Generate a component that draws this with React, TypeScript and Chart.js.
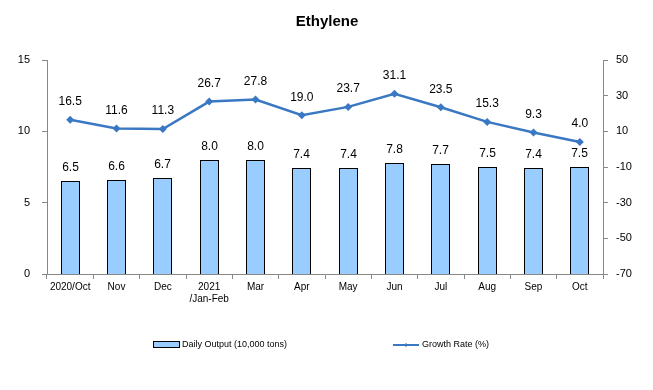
import React, { useEffect, useRef } from "react";
import { Chart, registerables } from "chart.js";

Chart.register(...registerables);

const categories: (string | string[])[] = [
  "2020/Oct", "Nov", "Dec", ["2021", "/Jan-Feb"], "Mar", "Apr", "May", "Jun", "Jul", "Aug", "Sep", "Oct",
];
const dailyOutput = [6.5, 6.6, 6.7, 8.0, 8.0, 7.4, 7.4, 7.8, 7.7, 7.5, 7.4, 7.5];
const growthRate = [16.5, 11.6, 11.3, 26.7, 27.8, 19.0, 23.7, 31.1, 23.5, 15.3, 9.3, 4.0];
const leftTicks = [0, 5, 10, 15];
const rightTicks = [-70, -50, -30, -10, 10, 30, 50];
const titleText = "Ethylene";
const barLabel = "Daily Output (10,000 tons)";
const lineLabel = "Growth Rate (%)";

const FONT = "'Liberation Sans', Arial, sans-serif";
const BAR_COLOR = "#99ccff";
const LINE_COLOR = "#3a78c3";

const snapPlugin = {
  id: "snap",
  beforeDatasetsDraw(chart: any) {
    const meta = chart.getDatasetMeta(0);
    meta.data.forEach((el: any) => {
      el.x = Math.round(el.x - 0.5) + 0.5;
      el.width = 19;
      el.y = Math.round(el.y);
      el.base = Math.round(el.base);
    });
  },
};

const decorPlugin = {
  id: "decor",
  afterDatasetsDraw(chart: any) {
    const ctx = chart.ctx;
    ctx.save();
    ctx.fillStyle = "#000";
    ctx.font = `12px ${FONT}`;
    ctx.textAlign = "center";
    ctx.textBaseline = "middle";
    const barMeta = chart.getDatasetMeta(0);
    barMeta.data.forEach((el: any, i: number) => {
      ctx.fillText(dailyOutput[i].toFixed(1), el.x, el.y - 13);
    });
    const lineMeta = chart.getDatasetMeta(1);
    lineMeta.data.forEach((el: any, i: number) => {
      ctx.fillText(growthRate[i].toFixed(1), el.x, el.y - 18);
    });
    ctx.font = `bold 15px ${FONT}`;
    ctx.fillText(titleText, 327, 22);
    ctx.textAlign = "left";
    ctx.font = `9px ${FONT}`;
    ctx.fillStyle = BAR_COLOR;
    ctx.fillRect(153.5, 341.5, 26, 6);
    ctx.strokeStyle = "#000";
    ctx.lineWidth = 1;
    ctx.strokeRect(153.5, 341.5, 26, 6);
    ctx.fillStyle = "#000";
    ctx.fillText(barLabel, 182, 345);
    ctx.strokeStyle = LINE_COLOR;
    ctx.lineWidth = 2;
    ctx.beginPath();
    ctx.moveTo(393, 345);
    ctx.lineTo(419, 345);
    ctx.stroke();
    ctx.fillStyle = LINE_COLOR;
    ctx.beginPath();
    ctx.moveTo(406, 343);
    ctx.lineTo(408, 345);
    ctx.lineTo(406, 347);
    ctx.lineTo(404, 345);
    ctx.closePath();
    ctx.fill();
    ctx.fillStyle = "#000";
    ctx.fillText(lineLabel, 422, 345);
    ctx.restore();
  },
};

export default function App() {
  const ref = useRef<HTMLCanvasElement>(null);
  useEffect(() => {
    const chart = new Chart(ref.current as HTMLCanvasElement, {
      type: "bar",
      data: {
        labels: categories as any,
        datasets: [
          {
            type: "bar",
            label: barLabel,
            data: dailyOutput,
            backgroundColor: BAR_COLOR,
            borderColor: "#000",
            borderWidth: 1,
            inflateAmount: 0,
            barPercentage: 0.82,
            categoryPercentage: 0.5,
            yAxisID: "y",
            order: 2,
          },
          {
            type: "line",
            label: lineLabel,
            data: growthRate,
            borderColor: LINE_COLOR,
            backgroundColor: LINE_COLOR,
            borderWidth: 2.5,
            pointStyle: "rectRot",
            pointRadius: 4,
            pointBorderWidth: 0,
            yAxisID: "y1",
            order: 1,
          } as any,
        ],
      },
      options: {
        animation: false,
        responsive: false,
        layout: { padding: { top: 60, left: 0, right: 0, bottom: 0 } },
        plugins: {
          legend: { display: false },
          title: { display: false },
          tooltip: { enabled: false },
        },
        scales: {
          x: {
            offset: true,
            grid: {
              display: true,
              offset: true,
              drawOnChartArea: false,
              tickLength: 5,
              color: "#888",
            },
            border: { display: true, color: "#888", width: 1 },
            ticks: {
              color: "#000",
              font: { family: FONT, size: 10 },
              maxRotation: 0,
              autoSkip: false,
              padding: 2,
            },
            afterFit(scale: any) {
              scale.height = 116;
            },
          },
          y: {
            position: "left",
            min: 0,
            max: 15,
            afterBuildTicks(scale: any) {
              scale.ticks = leftTicks.map((v) => ({ value: v }));
            },
            grid: { drawOnChartArea: false, tickLength: 5, color: "#888" },
            border: { display: true, color: "#888", width: 1 },
            ticks: { color: "#000", font: { family: FONT, size: 11 }, padding: 12 },
            afterFit(scale: any) {
              scale.width = 47;
            },
          },
          y1: {
            position: "right",
            min: -70,
            max: 50,
            afterBuildTicks(scale: any) {
              scale.ticks = rightTicks.map((v) => ({ value: v }));
            },
            grid: { drawOnChartArea: false, tickLength: 5, color: "#888" },
            border: { display: true, color: "#888", width: 1 },
            ticks: { color: "#000", font: { family: FONT, size: 11 }, padding: 8 },
            afterFit(scale: any) {
              scale.width = 50;
            },
          },
        },
      },
      plugins: [snapPlugin, decorPlugin],
    } as any);
    return () => chart.destroy();
  }, []);
  return (
    <div style={{ position: "absolute", left: 0, top: 0, width: 653, height: 390, background: "#fff" }}>
      <canvas ref={ref} width={653} height={390} />
    </div>
  );
}
